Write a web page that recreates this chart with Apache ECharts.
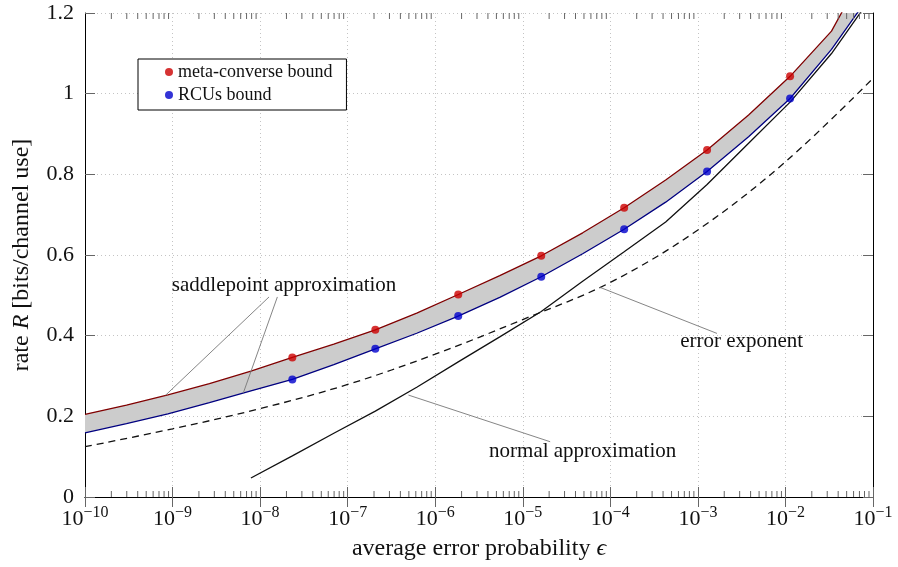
<!DOCTYPE html>
<html><head><meta charset="utf-8">
<script src="https://cdn.jsdelivr.net/npm/echarts@6/dist/echarts.min.js"></script>
<style>html,body{margin:0;padding:0;background:#fff}#c{width:898px;height:567px}</style>
</head><body><div id="c"></div>
<script>
// ---- data ----
// log10 of error probability for the computed curves
const epsLog = [-10, -9.526, -9.053, -8.579, -8.105, -7.632, -7.158, -6.684, -6.211, -5.737,
                -5.263, -4.789, -4.316, -3.842, -3.368, -2.895, -2.421, -1.947, -1.474, -1.0];
const metaConverse = [0.205, 0.228, 0.253, 0.281, 0.312, 0.346, 0.379, 0.4145, 0.456, 0.502,
                      0.549, 0.598, 0.655, 0.717, 0.786, 0.8605, 0.947, 1.043, 1.155, 1.343];
const rcus = [0.159, 0.182, 0.206, 0.234, 0.263, 0.2916, 0.328, 0.3675, 0.406, 0.4485,
              0.495, 0.546, 0.603, 0.664, 0.731, 0.807, 0.893, 0.988, 1.11, 1.255];
const normalApprox = [null, null, null, null, 0.047, 0.102, 0.158, 0.213, 0.272, 0.335,
                      0.397, 0.46, 0.535, 0.608, 0.682, 0.775, 0.877, 0.979, 1.0995, 1.245];
const markerIdx = [5, 7, 9, 11, 13, 15, 17];
const errExpLog = [-10, -9, -8, -7, -6, -5, -4, -3, -2, -1];
const errExp = [0.1247, 0.169, 0.219, 0.279, 0.354, 0.440, 0.532, 0.662, 0.831, 1.038];
const xTickExps = [-10, -9, -8, -7, -6, -5, -4, -3, -2, -1];
const yTicks = [0, 0.2, 0.4, 0.6, 0.8, 1, 1.2];
// annotations: text anchors [log10 eps, rate] and leader lines [logx1, y1, logx2, y2]
const annoTexts = ['saddlepoint approximation', 'error exponent', 'normal approximation'];
const annoPos = [[-7.726, 0.525], [-2.50, 0.3865], [-4.316, 0.114]];
const leaders = [[-7.898, 0.496, -9.078, 0.2527], [-7.803, 0.496, -8.191, 0.2584],
                 [-4.116, 0.5196, -2.782, 0.4056], [-6.306, 0.2527, -4.687, 0.137]];

const FONT = '"Liberation Serif", "Times New Roman", serif';
const toEps = l => Math.pow(10, l);
const pairs = (xs, ys) => xs.map((l, i) => [toEps(l), ys[i]]);
const minorVals = [];
xTickExps.slice(0, -1).forEach(e => { for (let m = 2; m <= 9; m++) minorVals.push([m * Math.pow(10, e), 0]); });

const chart = echarts.init(document.getElementById('c'));
const tickLabelRich = {
  b: { fontFamily: FONT, fontSize: 22, color: '#111', verticalAlign: 'bottom', lineHeight: 25 },
  s: { fontFamily: FONT, fontSize: 16, color: '#111', verticalAlign: 'top', lineHeight: 17 }
};
const xAxisBase = {
  type: 'log', logBase: 10, min: toEps(xTickExps[0]), max: toEps(xTickExps[xTickExps.length - 1]),
  axisLine: { show: true, lineStyle: { color: '#000', width: 1 } },
  axisTick: { show: true, inside: true, length: 10, lineStyle: { color: '#666', width: 1 } },
};
const yAxisBase = {
  type: 'value', min: yTicks[0], max: yTicks[yTicks.length - 1], interval: 0.2,
  axisLine: { show: true, lineStyle: { color: '#000', width: 1 } },
  axisTick: { show: true, inside: true, length: 10, lineStyle: { color: '#666', width: 1 } },
};
const option = {
  animation: false,
  grid: { left: 85, right: 25, top: 13, bottom: 70, containLabel: false, outerBoundsMode: 'none' },
  legend: {
    data: ['meta-converse bound', 'RCUs bound'],
    orient: 'vertical', left: 138, top: 59, icon: 'circle', itemWidth: 8, itemHeight: 8, itemGap: 5,
    padding: [4, 14, 6, 27], borderColor: '#000', borderWidth: 1, backgroundColor: '#fff',
    textStyle: { fontFamily: FONT, fontSize: 18, color: '#111' }
  },
  xAxis: [
    Object.assign({}, xAxisBase, {
      position: 'bottom',
      axisLabel: {
        margin: 8,
        formatter: v => '{b|10}{s|\u2212' + Math.abs(Math.round(Math.log10(v))) + '}',
        rich: tickLabelRich
      },
      splitLine: { show: true, lineStyle: { color: '#c4c4c4', type: [1, 3], width: 1 } },
      name: 'average error probability {i|\u03f5}', nameLocation: 'middle', nameGap: 40,
      nameTextStyle: { fontFamily: FONT, fontSize: 24, color: '#111',
        rich: { i: { fontFamily: FONT, fontStyle: 'italic', fontSize: 24, color: '#111' } } }
    }),
    Object.assign({}, xAxisBase, { position: 'top', axisLabel: { show: false }, splitLine: { show: false } })
  ],
  yAxis: [
    Object.assign({}, yAxisBase, {
      position: 'left',
      axisLabel: { margin: 11, fontFamily: FONT, fontSize: 22, color: '#111' },
      splitLine: { show: true, lineStyle: { color: '#c4c4c4', type: [1, 3], width: 1 } },
      name: 'rate {i|R} [bits/channel use]', nameLocation: 'middle', nameGap: 51,
      nameTextStyle: { fontFamily: FONT, fontSize: 24, color: '#111',
        rich: { i: { fontFamily: FONT, fontStyle: 'italic', fontSize: 24, color: '#111' } } }
    }),
    Object.assign({}, yAxisBase, { position: 'right', axisLabel: { show: false }, splitLine: { show: false } })
  ],
  series: [
    { type: 'custom', name: 'band', data: [[toEps(epsLog[0]), metaConverse[0]]], encode: { x: 0, y: 1 },
      clip: true, z: 1, silent: true,
      renderItem: (params, api) => {
        const pts = [];
        epsLog.forEach((l, i) => pts.push(api.coord([toEps(l), metaConverse[i]])));
        for (let i = epsLog.length - 1; i >= 0; i--) pts.push(api.coord([toEps(epsLog[i]), rcus[i]]));
        return { type: 'polygon', shape: { points: pts }, style: { fill: '#cccccc' } };
      } },
    { type: 'line', name: 'errExp', data: pairs(errExpLog, errExp), symbol: 'none', smooth: 0.35,
      lineStyle: { color: '#111', width: 1.3, type: [7, 5] }, z: 3 },
    { type: 'line', name: 'normal', data: pairs(epsLog, normalApprox), symbol: 'none',
      lineStyle: { color: '#111', width: 1.3 }, z: 3 },
    { type: 'line', name: 'mcLine', data: pairs(epsLog, metaConverse), symbol: 'none',
      lineStyle: { color: '#800000', width: 1.3 }, z: 3 },
    { type: 'line', name: 'rcuLine', data: pairs(epsLog, rcus), symbol: 'none',
      lineStyle: { color: '#000080', width: 1.3 }, z: 3 },
    { type: 'scatter', name: 'meta-converse bound', data: markerIdx.map(i => [toEps(epsLog[i]), metaConverse[i]]),
      symbol: 'circle', symbolSize: 8, itemStyle: { color: '#cc0000' }, z: 5 },
    { type: 'scatter', name: 'RCUs bound', data: markerIdx.map(i => [toEps(epsLog[i]), rcus[i]]),
      symbol: 'circle', symbolSize: 8, itemStyle: { color: '#0000cc' }, z: 5 },
    { type: 'custom', name: 'minorTicks', data: minorVals, encode: { x: 0, y: 1 }, z: 6, silent: true,
      renderItem: (params, api) => {
        const x = api.coord([api.value(0), 0])[0];
        const yb = api.coord([api.value(0), yTicks[0]])[1];
        const yt = api.coord([api.value(0), yTicks[yTicks.length - 1]])[1];
        return { type: 'group', children: [
          { type: 'line', shape: { x1: x, y1: yb, x2: x, y2: yb - 6 }, style: { stroke: '#666', lineWidth: 1 } },
          { type: 'line', shape: { x1: x, y1: yt, x2: x, y2: yt + 6 }, style: { stroke: '#666', lineWidth: 1 } }
        ] };
      } },
    { type: 'custom', name: 'leaders', data: leaders.map(d => [toEps(d[0]), d[1], toEps(d[2]), d[3]]),
      encode: { x: [0, 2], y: [1, 3] }, z: 4, silent: true,
      renderItem: (params, api) => {
        const p1 = api.coord([api.value(0), api.value(1)]);
        const p2 = api.coord([api.value(2), api.value(3)]);
        return { type: 'line', shape: { x1: p1[0], y1: p1[1], x2: p2[0], y2: p2[1] },
          style: { stroke: '#777', lineWidth: 0.9 } };
      } },
    { type: 'custom', name: 'annoText', data: annoPos.map(d => [toEps(d[0]), d[1]]),
      encode: { x: 0, y: 1 }, z: 7, silent: true,
      renderItem: (params, api) => {
        const p = api.coord([api.value(0), api.value(1)]);
        return { type: 'text', x: p[0], y: p[1],
          style: { text: annoTexts[params.dataIndex], font: '21px ' + FONT, fill: '#111',
            align: 'center', verticalAlign: 'middle', textAlign: 'center', textVerticalAlign: 'middle' } };
      } }
  ]
};
chart.setOption(option);
</script></body></html>
